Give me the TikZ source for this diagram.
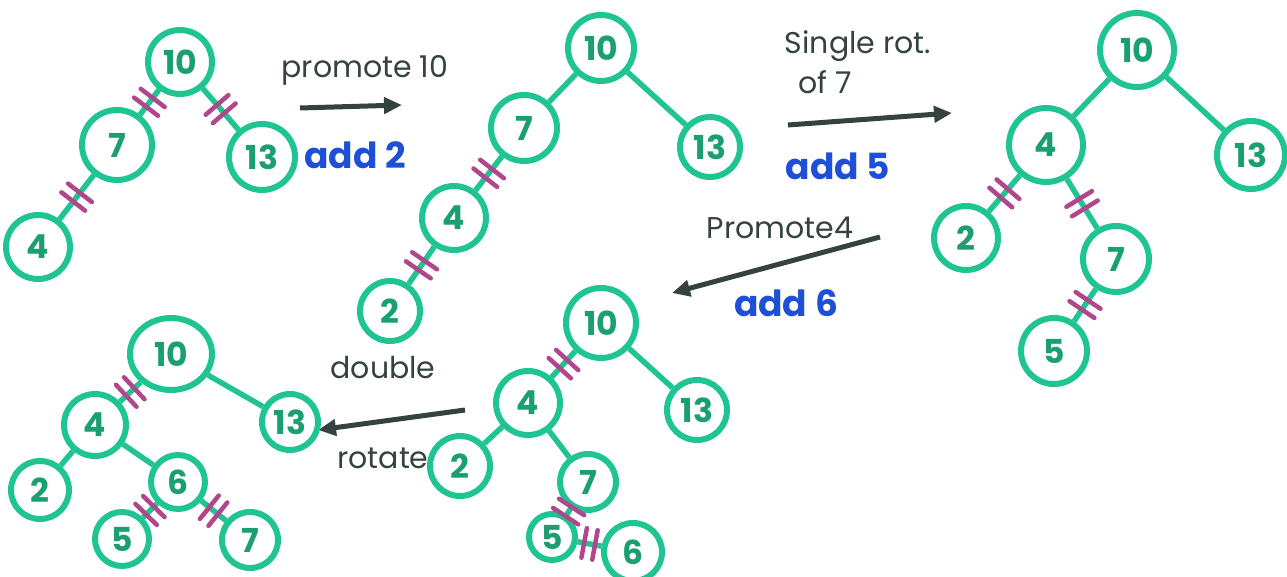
\documentclass[tikz,border=0pt]{standalone}
\usepackage{fontspec}
\setmainfont{Poppins}
\usetikzlibrary{arrows.meta,decorations.markings,shapes.geometric}
\definecolor{tealg}{RGB}{32,196,146}
\definecolor{tealt}{RGB}{26,160,112}
\definecolor{tickm}{RGB}{176,70,140}
\definecolor{inkd}{RGB}{52,66,64}
\definecolor{inkb}{RGB}{30,80,215}
\tikzset{
  tn/.style={circle,draw=tealg,line width=6pt,fill=white,text=tealt,inner sep=0pt,
    font=\fontsize{33}{33}\selectfont\bfseries,minimum size=#1},
  tn/.default=64pt,
  edge/.style={draw=tealg,line width=5.5pt},
  tick/.style={draw=tickm,line width=4.5pt,line cap=round},
  dbl/.style={postaction={decorate,decoration={markings,mark=at position #1 with {
      \draw[tick] (-5.5pt,-15pt)--(-5.5pt,15pt) (5.5pt,-15pt)--(5.5pt,15pt);}}}},
  dbl/.default=0.5,
  arr/.style={draw=inkd,line width=5pt,-{Triangle[length=18pt,width=16pt]}},
  lbl/.style={text=inkd,font=\fontsize{30}{30}\selectfont},
  lblb/.style={text=inkb,font=\fontsize{36}{36}\selectfont\bfseries},
}
\begin{document}
\begin{tikzpicture}[x=1pt,y=-1pt]
\useasboundingbox (0,0) rectangle (1287,577);
% ---------- tree 1
\node[tn=64pt] (a10) at (180,62) {10};
\node[tn=70pt] (a7) at (117,145) {7};
\node[tn=66pt] (a13) at (262,157) {13};
\node[tn=64pt] (a4) at (38,247) {4};
\path[edge,dbl] (a10) -- (a7);
\path[edge,dbl] (a10) -- (a13);
\path[edge,dbl] (a7) -- (a4);
% arrow 1
\coordinate (s1) at (300,108);
\coordinate (e1) at (402,105);
\draw[arr] (s1) -- (e1);
\node[lbl] (t1) at (365,70) {promote 10};
\node[lblb] (u1) at (355,155) {add 2};
% ---------- tree 2
\node[tn=66pt] (b10) at (601,48) {10};
\node[tn=66pt] (b7) at (524,128) {7};
\node[tn=60pt] (b13) at (710,147) {13};
\node[tn=64pt] (b4) at (454,218) {4};
\node[tn=60pt] (b2) at (390,311) {2};
\path[edge] (b10) -- (b7);
\path[edge] (b10) -- (b13);
\path[edge,dbl] (b7) -- (b4);
\path[edge,dbl] (b4) -- (b2);
% arrow 2
\coordinate (s2) at (788,125);
\coordinate (e2) at (952,113);
\draw[arr] (s2) -- (e2);
\node[lbl] (t2a) at (858,46) {Single rot.};
\node[lbl] (t2b) at (825,82) {of 7};
\node[lblb] (u2) at (838,166) {add 5};
% ---------- tree 3
\node[tn=74pt] (c10) at (1137,50) {10};
\node[tn=74pt] (c4) at (1046,145) {4};
\node[tn=68pt] (c13) at (1251,155) {13};
\node[tn=64pt] (c2) at (966,238) {2};
\node[tn=66pt] (c7) at (1116,259) {7};
\node[tn=66pt] (c5) at (1054,351) {5};
\path[edge] (c10) -- (c4);
\path[edge] (c10) -- (c13);
\path[edge,dbl] (c4) -- (c2);
\path[edge,dbl] (c4) -- (c7);
\path[edge,dbl] (c7) -- (c5);
% arrow 3
\coordinate (s3) at (880,237);
\coordinate (e3) at (672,293);
\draw[arr] (s3) -- (e3);
\node[lbl] (t3) at (780,228) {Promote4};
\node[lblb] (u3) at (786,303) {add 6};
% ---------- tree 4
\node[tn=70pt] (d10) at (601,323) {10};
\node[tn=64pt] (d4) at (528,403) {4};
\node[tn=60pt] (d13) at (697,410) {13};
\node[tn=60pt] (d2) at (460,466) {2};
\node[tn=56pt] (d7) at (588,482) {7};
\node[tn=46pt] (d5) at (552,537) {5};
\node[tn=58pt] (d6) at (633,552) {6};
\path[edge,dbl] (d10) -- (d4);
\path[edge] (d10) -- (d13);
\path[edge] (d4) -- (d2);
\path[edge] (d4) -- (d7);
\path[edge,dbl] (d7) -- (d5);
\path[edge,dbl] (d5) -- (d6);
% arrow 4
\coordinate (s4) at (465,410);
\coordinate (e4) at (318,430);
\draw[arr] (s4) -- (e4);
\node[lbl] (t4a) at (383,368) {double};
\node[lbl] (t4b) at (383,458) {rotate};
% ---------- tree 5
\node[tn=72pt,ellipse,minimum width=82pt] (f10) at (171,354) {10};
\node[tn=62pt] (f4) at (95,425) {4};
\node[tn=56pt] (f13) at (290,422) {13};
\node[tn=58pt] (f2) at (40,490) {2};
\node[tn=54pt] (f6) at (178,482) {6};
\node[tn=54pt] (f5) at (122,539) {5};
\node[tn=56pt] (f7) at (250,540) {7};
\path[edge,dbl] (f10) -- (f4);
\path[edge] (f10) -- (f13);
\path[edge] (f4) -- (f2);
\path[edge] (f4) -- (f6);
\path[edge,dbl] (f6) -- (f5);
\path[edge,dbl] (f6) -- (f7);
\end{tikzpicture}
\end{document}
